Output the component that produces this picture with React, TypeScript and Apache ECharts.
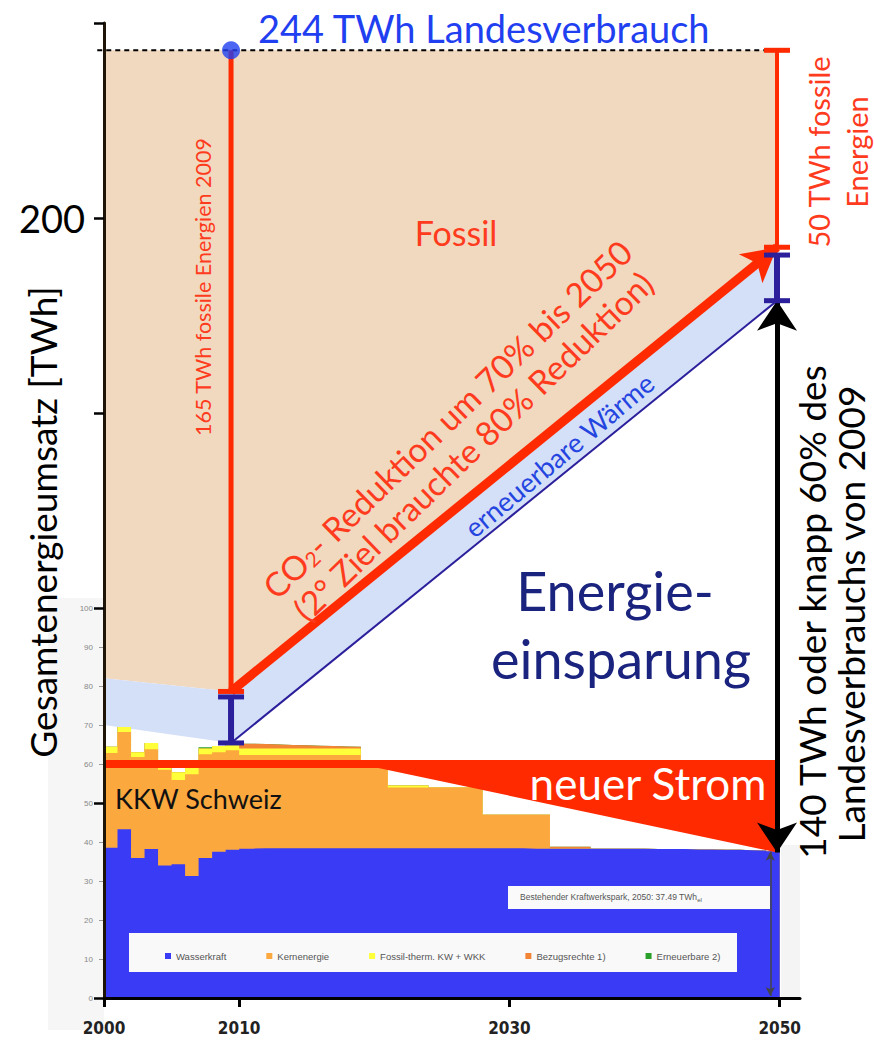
import React, { useEffect, useRef } from 'react';
import * as echarts from 'echarts';

// ---------- data ----------
const years = [
  2000, 2001, 2002, 2003, 2004, 2005, 2006, 2007, 2008, 2009,
  2010, 2011, 2012, 2013, 2014, 2015, 2016, 2017, 2018, 2019,
  2020, 2021, 2022, 2023, 2024, 2025, 2026, 2027, 2028, 2029,
  2030, 2031, 2032, 2033, 2034, 2035, 2036, 2037, 2038, 2039,
  2040, 2041, 2042, 2043, 2044, 2045, 2046, 2047, 2048, 2049,
  2050,
];
const hydro = [
  38.5, 43.3, 35.9, 38.2, 34.0, 34.3, 31.3, 35.9, 37.5, 38.0,
  38.3, 38.4, 38.4, 38.4, 38.4, 38.4, 38.4, 38.4, 38.4, 38.4,
  38.4, 38.4, 38.4, 38.4, 38.4, 38.4, 38.4, 38.4, 38.4, 38.4,
  38.4, 38.3, 38.3, 38.3, 38.3, 38.3, 38.3, 38.3, 38.3, 38.3,
  38.2, 38.2, 38.2, 38.1, 38.1, 38.0, 38.0, 37.9, 37.8, 37.6,
  37.5,
];
const nuclear = [
  24.3, 24.9, 25.9, 25.6, 24.5, 21.6, 26.1, 26.6, 25.5, 25.5,
  24.0, 23.9, 23.9, 23.9, 23.9, 23.9, 23.9, 23.9, 23.9, 20.6,
  20.6, 15.6, 15.6, 15.6, 15.6, 15.6, 15.6, 15.6, 8.6, 8.6,
  8.6, 8.7, 8.7, 0, 0, 0, 0, 0, 0, 0,
  0, 0, 0, 0, 0, 0, 0, 0, 0, 0,
  0,
];
const fossilThermal = [
  1.6, 1.3, 1.2, 1.6, 1.5, 2.0, 1.6, 1.5, 1.6, 1.5,
  1.7, 1.7, 1.7, 1.7, 1.7, 1.7, 1.7, 1.7, 1.7, 0,
  0, 0.5, 0.5, 0.5, 0, 0, 0, 0, 0, 0,
  0, 0, 0, 0, 0, 0, 0, 0, 0, 0,
  0, 0, 0, 0, 0, 0, 0, 0, 0, 0,
  0,
];
const importRights = [
  0, 0, 0, 0, 0, 0, 0, 0, 0, 0.6,
  1.2, 1.1, 1.0, 0.9, 0.8, 0.7, 0.6, 0.5, 0.4, 0,
  0, 0, 0, 0, 0, 0, 0, 0, 0, 0,
  0, 0, 0, 0.5, 0.5, 0.5, 0, 0, 0, 0,
  0, 0, 0, 0, 0, 0, 0, 0, 0, 0,
  0,
];
const renewables = [
  0, 0, 0, 0, 0, 0, 0, 0.3, 0, 0,
  0, 0, 0, 0, 0, 0, 0, 0, 0, 0,
  0, 0, 0, 0, 0, 0, 0, 0, 0, 0,
  0, 0, 0, 0, 0, 0, 0, 0, 0, 0,
  0, 0, 0, 0, 0, 0, 0, 0, 0, 0,
  0,
];

const xTickYears = [2000, 2010, 2030, 2050];
const innerTicks = [0, 10, 20, 30, 40, 50, 60, 70, 80, 90, 100];

// scenario lines [year, TWh]
const totalLevel = 243; // 244 TWh Landesverbrauch
const mark2009 = 2009.4;
const mark2050 = 2049.8;
const fossilEdge = [[2000, 82], [mark2009, 78.6], [mark2050, 192.5]];
const heatEdge = [[2000, 70], [mark2009, 65.4], [mark2050, 178.8]];
const heatBeamTop = [77.2, 190.5];
const stromTop = [[2000, 61], [mark2050, 61]];
const stromEdge = [[2000, 59], [2020.3, 59], [mark2050, 37.3]];
const savingLow = 37.3;
const existing2050 = 37.49;

const legendNames = ['Wasserkraft', 'Kernenergie', 'Fossil-therm. KW + WKK', 'Bezugsrechte 1)', 'Erneuerbare 2)'];
const legendColors = ['#3a3cf5', '#fba83f', '#ffff3a', '#f28436', '#2aa02a'];

// ---------- helpers ----------
const FONT = 'Lato, "Open Sans", "DejaVu Sans", sans-serif';
const RED = '#ff2a00';
const RED_TXT = '#ff3b1e';
const INDIGO = '#2c1f9b';

const polygonSeries = (id: string, pts: number[][], color: string, z: number) => ({
  type: 'custom',
  id,
  z,
  silent: true,
  clip: false,
  data: [pts[0]],
  renderItem: (_p: any, api: any) => ({
    type: 'polygon',
    shape: { points: pts.map((p) => api.coord(p)) },
    style: { fill: color },
  }),
});

const segmentSeries = (id: string, segs: number[][][], color: string, width: number, z: number, dash?: number[]) => ({
  type: 'custom',
  id,
  z,
  silent: true,
  clip: false,
  data: [segs[0][0]],
  renderItem: (_p: any, api: any) => ({
    type: 'group',
    children: segs.map(([a, b]) => {
      const p1 = api.coord(a);
      const p2 = api.coord(b);
      return {
        type: 'line',
        shape: { x1: p1[0], y1: p1[1], x2: p2[0], y2: p2[1] },
        style: { stroke: color, lineWidth: width, lineDash: dash || null, lineCap: 'butt' },
      };
    }),
  }),
});

const capSeries = (id: string, pts: number[][], color: string, width: number, half: number, z: number) => ({
  type: 'custom',
  id,
  z,
  silent: true,
  clip: false,
  data: [pts[0]],
  renderItem: (_p: any, api: any) => ({
    type: 'group',
    children: pts.map((p) => {
      const c = api.coord(p);
      return {
        type: 'line',
        shape: { x1: c[0] - half, y1: c[1], x2: c[0] + half, y2: c[1] },
        style: { stroke: color, lineWidth: width },
      };
    }),
  }),
});

const arrowSeries = (id: string, from: number[], to: number[], color: string, width: number, symbols: string[], size: number[], z: number) => ({
  type: 'line',
  id,
  z,
  data: [],
  silent: true,
  markLine: {
    silent: true,
    animation: false,
    symbol: symbols,
    symbolSize: size,
    label: { show: false },
    emphasis: { disabled: true },
    itemStyle: { color },
    lineStyle: { color, width, type: 'solid', opacity: 1 },
    data: [[{ coord: from }, { coord: to }]],
  },
});

// area from 0 up to the cumulative top; drawn top layer first so lower layers cover it
const layerSeries = (name: string, tops: number[], color: string) => ({
  type: 'line',
  name,
  step: 'end',
  symbol: 'none',
  z: 2,
  silent: true,
  lineStyle: { width: 0 },
  itemStyle: { color },
  areaStyle: { color, opacity: 1, origin: 'start' },
  data: years.map((y, i) => [y, tops[i]]),
});

const txt = (text: string, x: number, y: number, size: number, color: string, o: any = {}) => ({
  type: 'text',
  x,
  y,
  rotation: ((o.rot || 0) * Math.PI) / 180,
  z: 50,
  silent: true,
  style: {
    text,
    fill: color,
    fontSize: size,
    fontFamily: o.font || FONT,
    fontWeight: o.weight || 'normal',
    textAlign: o.align || 'center',
    align: o.align || 'center',
    textVerticalAlign: 'middle',
    verticalAlign: 'middle',
    rich: o.rich,
  },
});

export default function App() {
  const ref = useRef<HTMLDivElement>(null);

  useEffect(() => {
    if (!ref.current) return;
    const chart = echarts.init(ref.current, null, { renderer: 'svg' });

    // cumulative tops of the stacked electricity layers
    const layers = [hydro, nuclear, fossilThermal, importRights, renewables];
    const tops: number[][] = [];
    layers.forEach((arr, k) => {
      tops.push(arr.map((v, i) => +(v + (k > 0 ? tops[k - 1][i] : 0)).toFixed(2)));
    });
    const layerSeriesList = layers
      .map((_, k) => layerSeries(legendNames[k], tops[k], legendColors[k]))
      .reverse();

    const option: any = {
      animation: false,
      backgroundColor: '#ffffff',
      grid: { left: 104, right: 74, top: 23, bottom: 42, containLabel: false },
      legend: {
        data: legendNames,
        left: 160,
        top: 946,
        icon: 'rect',
        itemWidth: 6,
        itemHeight: 6,
        itemGap: 40,
        selectedMode: false,
        z: 20,
        textStyle: { fontSize: 9.5, color: '#555', fontFamily: '"Liberation Sans", Arial, sans-serif' },
      },
      xAxis: {
        type: 'value',
        min: 2000,
        max: 2051.5,
        interval: 10,
        splitLine: { show: false },
        axisLine: { lineStyle: { color: '#000', width: 3 } },
        axisTick: { show: true, customValues: xTickYears, length: 9, lineStyle: { color: '#000', width: 3 } },
        axisLabel: {
          customValues: xTickYears,
          formatter: (v: number) => (xTickYears.includes(v) ? String(v) : ''),
          fontSize: 17,
          fontWeight: 'bold',
          color: '#222',
          margin: 21,
          fontFamily: '"DejaVu Sans Condensed", "DejaVu Sans", sans-serif',
        },
        z: 6,
      },
      yAxis: [
        {
          type: 'value',
          min: 0,
          max: 250,
          interval: 50,
          splitLine: { show: false },
          axisLine: { show: true, lineStyle: { color: '#1e1408', width: 3 } },
          axisTick: { show: true, length: 10, lineStyle: { color: '#000', width: 2.5 } },
          axisLabel: {
            formatter: (v: number) => (v === 200 ? '200' : ''),
            fontSize: 38,
            color: '#000',
            margin: 19,
            fontFamily: FONT,
          },
          z: 6,
        },
        {
          type: 'value',
          min: 0,
          max: 250,
          interval: 10,
          position: 'left',
          splitLine: { show: false },
          axisLine: { show: false },
          axisTick: { show: true, customValues: innerTicks, length: 5, lineStyle: { color: '#999', width: 1 } },
          axisLabel: {
            customValues: innerTicks,
            formatter: (v: number) => (v <= 100 ? String(v) : ''),
            fontSize: 8,
            color: '#888',
            margin: 11,
            fontFamily: '"Liberation Sans", Arial, sans-serif',
          },
          z: 5,
        },
      ],
      series: [
        polygonSeries('fossil', [[2000, totalLevel], [mark2050, totalLevel], ...[...fossilEdge].reverse()], '#f1d9bf', 1),
        polygonSeries('heat', [...fossilEdge, ...[...heatEdge].reverse()], '#d4dff8', 1),
        ...layerSeriesList,
        polygonSeries('strom', [...stromTop, ...[...stromEdge].reverse()], RED, 3),
        // dashed consumption line
        segmentSeries('total', [[[1999.5, totalLevel], [2050.7, totalLevel]]], '#000', 2, 4, [5, 4]),
        // 2009 red vertical + cap
        segmentSeries('red2009', [[[mark2009, totalLevel], [mark2009, fossilEdge[1][1]]]], RED, 5, 5),
        capSeries('red2009cap', [[mark2009, fossilEdge[1][1]]], RED, 5, 13, 5),
        // 2050 red bracket
        segmentSeries('red2050', [[[mark2050, totalLevel], [mark2050, fossilEdge[2][1]]]], RED, 4, 5),
        capSeries('red2050cap', [[mark2050, totalLevel], [mark2050, fossilEdge[2][1]]], RED, 5, 13, 5),
        // renewable heat edge line
        segmentSeries('heatLine', [[heatEdge[1], heatEdge[2]]], INDIGO, 2, 5),
        // indigo I-beams
        segmentSeries('ib', [[[mark2009, heatBeamTop[0]], [mark2009, heatEdge[1][1]]], [[mark2050, heatBeamTop[1]], [mark2050, heatEdge[2][1]]]], INDIGO, 6, 6),
        capSeries('ibcap', [[mark2009, heatBeamTop[0]], [mark2009, heatEdge[1][1]], [mark2050, heatBeamTop[1]], [mark2050, heatEdge[2][1]]], INDIGO, 5, 13, 6),
        // red CO2 arrow
        arrowSeries('co2', fossilEdge[1], fossilEdge[2], RED, 9, ['none', 'arrow'], [28, 34], 7),
        // black savings arrow
        arrowSeries('saving', [mark2050, heatEdge[2][1]], [mark2050, savingLow], '#000', 5, ['arrow', 'arrow'], [30, 30], 8),
        // grey existing plant arrow
        arrowSeries('existing', [2049.3, existing2050], [2049.3, 0.5], '#444', 1.5, ['arrow', 'arrow'], [7, 9], 8),
        {
          type: 'scatter',
          id: 'dot',
          z: 9,
          silent: true,
          symbol: 'circle',
          symbolSize: 18,
          itemStyle: { color: '#1f40f0' },
          data: [[mark2009, totalLevel]],
        },
      ],
      graphic: [
        { type: 'rect', z: -10, silent: true, shape: { x: 48, y: 598, width: 56, height: 432 }, style: { fill: '#f6f6f6' } },
        { type: 'rect', z: -10, silent: true, shape: { x: 781, y: 845, width: 19, height: 152 }, style: { fill: '#f4f4f4' } },
        { type: 'rect', z: 15, silent: true, shape: { x: 129, y: 933, width: 608, height: 39 }, style: { fill: '#f9f9f9' } },
        { type: 'rect', z: 15, silent: true, shape: { x: 508, y: 886, width: 262, height: 23 }, style: { fill: '#fafafa' } },
        txt('Bestehender Kraftwerkspark, 2050: 37.49 TWh{s|el}', 520, 897, 8.5, '#555', {
          align: 'left',
          font: '"Liberation Sans", Arial, sans-serif',
          rich: { s: { fontSize: 6, fill: '#555', padding: [5, 0, 0, 0], fontFamily: '"Liberation Sans", Arial, sans-serif' } },
        }),
        txt('244 TWh Landesverbrauch', 258, 28, 38, '#1f3ff0', { align: 'left' }),
        txt('Fossil', 456, 232, 34, RED_TXT),
        txt('165 TWh fossile Energien 2009', 203, 287, 21.5, RED_TXT, { rot: 90 }),
        txt('50 TWh fossile', 818, 152, 29, RED_TXT, { rot: 90 }),
        txt('Energien', 856, 152, 29, RED_TXT, { rot: 90 }),
        txt('CO{s|2}- Reduktion um 70% bis 2050', 447, 419, 33.5, RED_TXT, {
          rot: 44,
          rich: { s: { fontSize: 21, fill: RED_TXT, fontFamily: FONT, padding: [13, 0, 0, 0] } },
        }),
        txt('(2° Ziel brauchte 80% Reduktion)', 473, 446, 33.5, RED_TXT, { rot: 44 }),
        txt('erneuerbare Wärme', 559, 455, 27, '#2445e0', { rot: 40 }),
        txt('Energie-', 615, 590, 54, '#1a237e'),
        txt('einsparung', 621, 658, 54, '#1a237e'),
        txt('neuer Strom', 648, 783, 44, '#ffffff'),
        txt('KKW Schweiz', 115, 798, 27, '#111', { align: 'left' }),
        txt('140 TWh oder knapp 60% des', 811, 612, 37, '#000', { rot: 90 }),
        txt('Landesverbrauchs von 2009', 850, 614, 37, '#000', { rot: 90 }),
        txt('Gesamtenergieumsatz [TWh]', 42, 522, 37, '#000', { rot: 90 }),
      ],
    };

    chart.setOption(option);
    return () => chart.dispose();
  }, []);

  return <div ref={ref} style={{ position: 'absolute', left: 0, top: 0, width: 874, height: 1040 }} />;
}
